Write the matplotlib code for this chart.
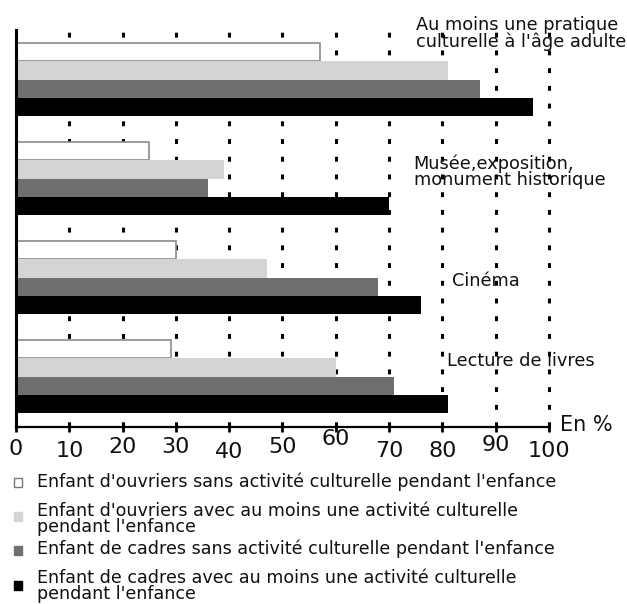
import numpy as np
import matplotlib
matplotlib.use("Agg")
import matplotlib.pyplot as plt
from matplotlib.patches import Rectangle
from matplotlib.transforms import ScaledTranslation

# data (en %)
categories = ["Au moins une pratique\nculturelle à l'âge adulte",
              "Musée,exposition,\nmonument historique",
              "Cinéma",
              "Lecture de livres"]
series = ["Enfant d'ouvriers sans activité culturelle pendant l'enfance",
          "Enfant d'ouvriers avec au moins une activité culturelle\npendant l'enfance",
          "Enfant de cadres sans activité culturelle pendant l'enfance",
          "Enfant de cadres avec au moins une activité culturelle\npendant l'enfance"]
ouvriers_sans = [57, 25, 30, 29]
ouvriers_avec = [81, 39, 47, 60]
cadres_sans = [87, 36, 68, 71]
cadres_avec = [97, 70, 76, 81]
ticks = [0, 10, 20, 30, 40, 50, 60, 70, 80, 90, 100]

values = [ouvriers_sans, ouvriers_avec, cadres_sans, cadres_avec]
colors = ["white", "#d4d4d4", "#6f6f6f", "black"]
edges = ["#8a8a8a", "#d4d4d4", "#6f6f6f", "black"]

W, H = 627, 604
fig = plt.figure(figsize=(W / 100, H / 100), dpi=100)
ax = fig.add_axes([16 / W, 1 - 427 / H, 533 / W, 397 / H])

h = 0.184
pos = np.arange(len(categories))
for k in range(4):
    ax.barh(pos + (k - 1.5) * h, values[k], height=h, color=colors[k],
            edgecolor=edges[k], linewidth=1.2 if k == 0 else 0, zorder=3)

# dotted vertical grid
for t in ticks[1:]:
    ax.axvline(t, color="black", lw=2.2, dashes=(1.6, 4.2), zorder=1, clip_on=False)

ax.set_xlim(0, 100)
ax.set_ylim(3.51, -0.5)
ax.set_yticks([])
for s in ["top", "right"]:
    ax.spines[s].set_visible(False)
ax.spines["left"].set_linewidth(2.2)
ax.spines["left"].set_zorder(5)
ax.spines["bottom"].set_linewidth(1.6)

ax.set_xticks(ticks)
ax.set_xticklabels([str(t) for t in ticks], fontsize=16, color="#111111")
ax.tick_params(axis="x", direction="inout", length=7, width=2, pad=5)
# the labels in the source sit at uneven heights
shifts = [0, 2, -2, -2, 3, -2, -10, 2, 2, -4, 2]
for lab, dy in zip(ax.get_xticklabels(), shifts):
    lab.set_transform(lab.get_transform() + ScaledTranslation(0, -dy / 100, fig.dpi_scale_trans))

ax.text(1.02, 0.005, "En %", transform=ax.transAxes, fontsize=15,
        va="center", ha="left", color="#111111")

# category labels
label_pos = [(75, -0.46), (74.6, 0.93), (81.8, 2.04), (80.9, 2.84)]
for name, (lx, ly) in zip(categories, label_pos):
    ax.text(lx, ly, name, fontsize=12.8, va="center", ha="left",
            linespacing=0.9, color="#111111", clip_on=False, zorder=4)

# legend drawn by hand
leg_y = [482, 519, 549, 586]
box_y = [482, 516, 550, 585]
for k in range(4):
    fig.patches.append(Rectangle((14 / W, 1 - (box_y[k] + 4.5) / H), 8 / W, 9 / H,
                                 facecolor=colors[k], edgecolor="#777777" if k == 0 else colors[k],
                                 lw=1, transform=fig.transFigure))
    fig.text(37 / W, 1 - leg_y[k] / H, series[k], fontsize=12.6, va="center", ha="left",
             linespacing=0.85, color="#111111")

fig.savefig("out.png", dpi=100)
